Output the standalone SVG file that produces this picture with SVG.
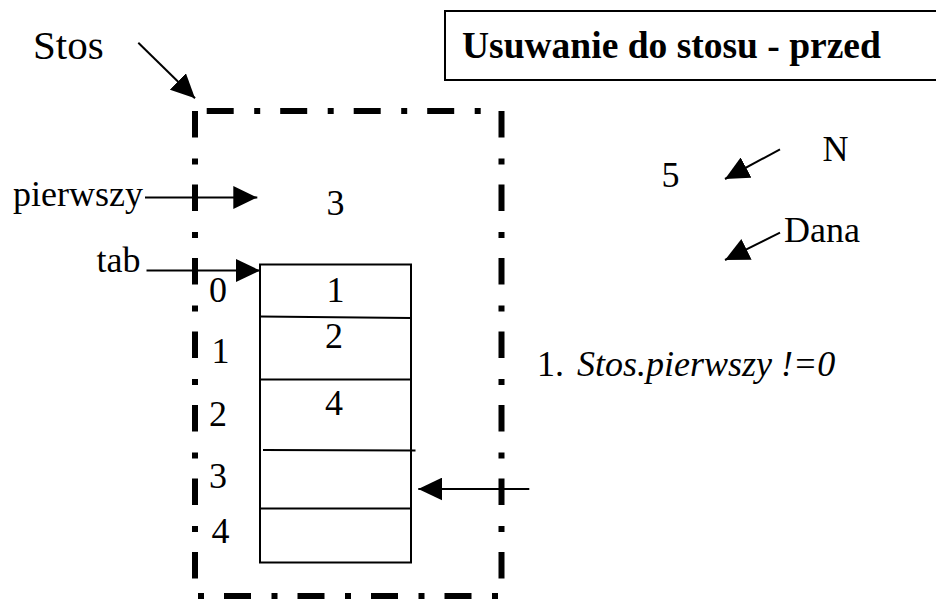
<svg xmlns="http://www.w3.org/2000/svg" width="936" height="599" viewBox="0 0 936 599">
  <style>
    text { font-family: "Liberation Serif", "Times New Roman", Tinos, "DejaVu Serif", serif; font-size: 36px; font-weight: normal; fill: #000; }
    .title { font-weight: bold; font-size: 37.5px; }
    .big { font-size: 41px; }
    .it { font-style: italic; }
    .frame { fill: none; stroke: #000; stroke-width: 6; stroke-linecap: butt; }
    .box { fill: none; stroke: #000; stroke-width: 2; }
    .arrow { fill: none; stroke: #000; stroke-width: 2; marker-end: url(#head); }
  </style>
  <defs>
    <marker id="head" viewBox="0 0 24 23" refX="24" refY="11.5" markerWidth="24" markerHeight="23" markerUnits="userSpaceOnUse" orient="auto">
      <path d="M0,0 L24,11.5 L0,23 Z" fill="#000"/>
    </marker>
  </defs>

  <rect width="936" height="599" fill="#fff"/>

  <!-- title box -->
  <g id="title">
    <rect class="box" x="445" y="11" width="520" height="69"/>
    <text class="title" x="462" y="58">Usuwanie do stosu - przed</text>
  </g>

  <!-- dash-dot outline of the stack structure -->
  <g id="stos-frame">
    <path class="frame" d="M195,111 V582" stroke-dasharray="26.5 21 6 20"/>
    <path class="frame" d="M501.5,111 V582" stroke-dasharray="26.5 21 6 20"/>
    <path class="frame" d="M206.7,111 H490" stroke-dasharray="27 20.5 6 20"/>
    <path class="frame" d="M198,596 H500" stroke-dasharray="6 20 27 20.5"/>
  </g>

  <g id="stos-label">
    <text class="big" x="33" y="59">Stos</text>
  </g>

  <g id="pierwszy-label">
    <text x="13" y="206">pierwszy</text>
  </g>

  <g id="tab-label">
    <text x="96.5" y="271.5">tab</text>
  </g>

  <g id="pierwszy-value">
    <text x="326.5" y="215">3</text>
  </g>

  <!-- array tab[0..4] -->
  <g id="tab-array">
    <rect class="box" x="260" y="264.5" width="151" height="298"/>
    <line class="box" x1="260" y1="316.5" x2="411" y2="318"/>
    <line class="box" x1="260" y1="379.5" x2="411" y2="379.5"/>
    <line class="box" x1="263" y1="450" x2="415.5" y2="450.5"/>
    <line class="box" x1="260" y1="508.5" x2="411" y2="508.5"/>
    <text x="326.5" y="302">1</text>
    <text x="325" y="348">2</text>
    <text x="325" y="415">4</text>
  </g>

  <g id="indices">
    <text x="209" y="301.5">0</text>
    <text x="211.5" y="362.5">1</text>
    <text x="209" y="426">2</text>
    <text x="209" y="488">3</text>
    <text x="211.5" y="542.5">4</text>
  </g>

  <g id="n-var">
    <text x="661.5" y="186.5">5</text>
    <text x="822.5" y="160.5">N</text>
  </g>

  <g id="dana-var">
    <text x="784" y="241.5">Dana</text>
  </g>

  <g id="condition">
    <text x="537" y="376">1.</text>
    <text class="it" x="577" y="376">Stos.pierwszy !=0</text>
  </g>

  <g id="connectors">
    <line class="arrow" x1="138.3" y1="42.7" x2="195" y2="98.3"/>
    <line class="arrow" x1="145" y1="197.5" x2="257.3" y2="197.5"/>
    <line class="arrow" x1="146.5" y1="270.5" x2="260" y2="270.5"/>
    <line class="arrow" x1="529.3" y1="489" x2="418.3" y2="489"/>
    <line class="arrow" x1="780" y1="149.3" x2="725" y2="179"/>
    <line class="arrow" x1="780" y1="232.7" x2="725" y2="260"/>
  </g>
</svg>
